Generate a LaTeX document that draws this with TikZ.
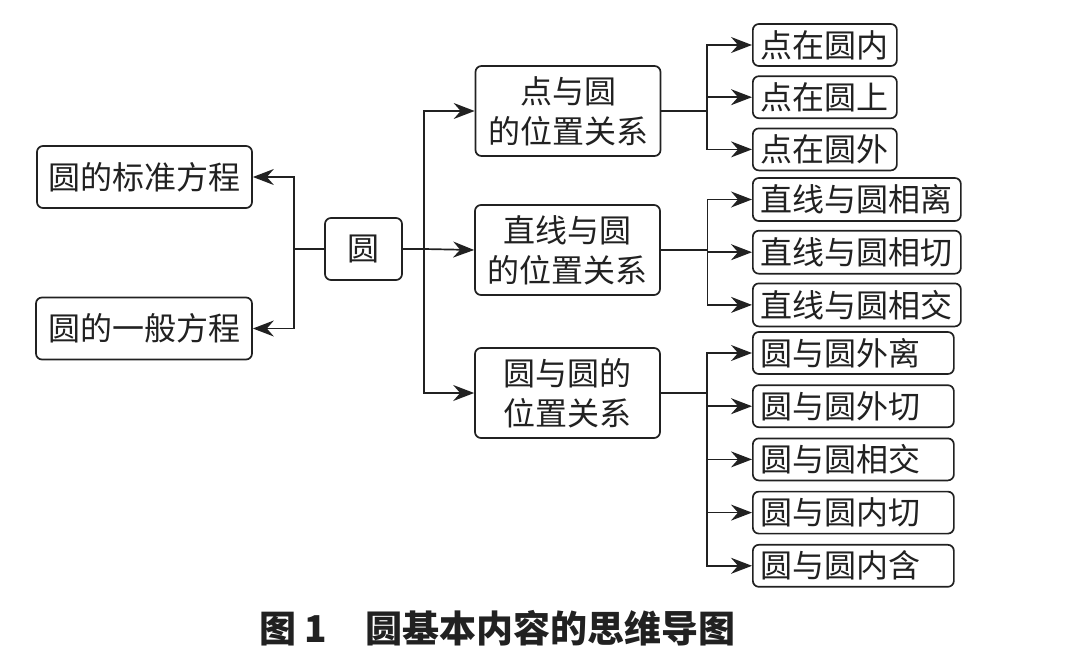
\documentclass[tikz,border=0pt]{standalone}
\usepackage{fontspec}
\setmainfont{Noto Sans CJK SC}
\usetikzlibrary{arrows.meta}
\usetikzlibrary{positioning}
\definecolor{mgray}{rgb}{0.13, 0.13, 0.13}
\tikzset{box/.style = {draw=mgray, text=mgray, rounded corners=6pt, line width=1.7pt,
                       inner sep=0pt, font=\fontsize{32}{40}\selectfont, align=center},
         leaf/.style = {box, anchor=west, minimum height=42pt, inner xsep=8pt},
         arr/.style = {-{Stealth[length=21pt, width=16pt, inset=7pt]}, line width=1.7pt, mgray}}
\begin{document}
\begin{tikzpicture}[x=1pt, y=-1pt]
      \useasboundingbox (0, 0) rectangle (1076, 661);

      % centre and the two equations
      \node [box, minimum width=77pt, minimum height=62pt] (yuan) at (363.5, 249) {圆};
      \node [box, minimum width=215pt, minimum height=62pt] (std) at (144.5, 177) {圆的标准方程};
      \node [box, minimum width=216pt, minimum height=62pt] (gen) at (144, 328.5) {圆的一般方程};

      % three relations
      \node [box, minimum width=185pt, minimum height=90pt] (pc) at (568, 111) {点与圆\\的位置关系};
      \node [box, minimum width=185pt, minimum height=90pt] (lc) at (567.5, 250) {直线与圆\\的位置关系};
      \node [box, minimum width=185pt, minimum height=90pt] (cc) at (567.5, 393) {圆与圆的\\位置关系};

      % point and circle
      \node [leaf] (p1) at (752, 45) {点在圆内};
      \node [leaf, below=8.5pt of p1] (p2) {点在圆上};
      \node [leaf, below=8.5pt of p2] (p3) {点在圆外};

      % line and circle
      \node [leaf, minimum height=43pt] (l1) at (752, 199.5) {直线与圆相离};
      \node [leaf, minimum height=43pt, below=8pt of l1] (l2) {直线与圆相切};
      \node [leaf, minimum height=43pt, below=8pt of l2] (l3) {直线与圆相交};

      % circle and circle
      \node [leaf, text width=185pt, align=left] (c1) at (752, 353) {圆与圆外离};
      \node [leaf, text width=185pt, align=left, below=9.5pt of c1] (c2) {圆与圆外切};
      \node [leaf, text width=185pt, align=left, below=9.5pt of c2] (c3) {圆与圆相交};
      \node [leaf, text width=185pt, align=left, below=9.5pt of c3] (c4) {圆与圆内切};
      \node [leaf, text width=185pt, align=left, below=9.5pt of c4] (c5) {圆与圆内含};

      \coordinate (jl) at (294, 249);
      \coordinate (jr) at (424, 249);
      \coordinate (jp) at (707, 111);
      \coordinate (jlc) at (707.5, 250);
      \coordinate (jc) at (707, 393);

      \draw [line width=1.7pt, mgray] (yuan.west) -- (jl);
      \draw [arr] (jl) |- (std.east);
      \draw [arr] (jl) |- (gen.east);

      \draw [line width=1.7pt, mgray] (yuan.east) -- (jr);
      \draw [arr] (jr) |- (pc.west);
      \draw [arr] (jr) -- (lc.west);
      \draw [arr] (jr) |- (cc.west);

      \draw [line width=1.7pt, mgray] (pc.east) -- (jp);
      \draw [line width=1.7pt, mgray] (lc.east) -- (jlc);
      \draw [line width=1.7pt, mgray] (cc.east) -- (jc);
      \foreach \leaf in {p1, p2, p3} \draw [arr] (jp) |- (\leaf.west);
      \foreach \leaf in {l1, l2, l3} \draw [arr] (jlc) |- (\leaf.west);
      \foreach \leaf in {c1, c2, c3, c4, c5} \draw [arr] (jc) |- (\leaf.west);

      \node [font=\fontsize{37}{40}\selectfont\bfseries, text=mgray] (cap) at (497, 628)
            {图 1\hspace{38pt}圆基本内容的思维导图};
    \end{tikzpicture}
\end{document}
